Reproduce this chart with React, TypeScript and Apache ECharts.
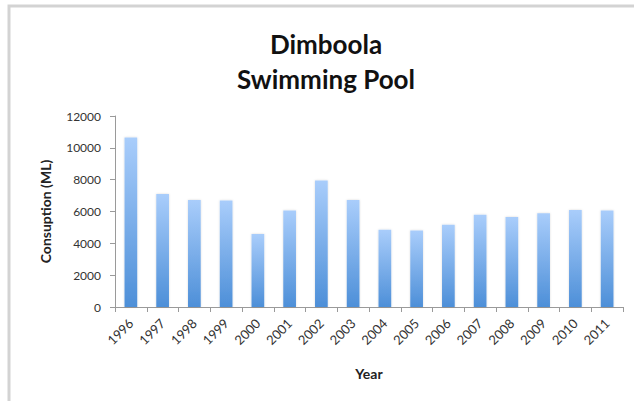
import React, { useEffect, useRef } from "react";
import * as echarts from "echarts";

// Annual water consumption for the Dimboola swimming pool
const years = [
  "1996", "1997", "1998", "1999", "2000", "2001", "2002", "2003",
  "2004", "2005", "2006", "2007", "2008", "2009", "2010", "2011",
];
const consumption = [
  10650, 7100, 6720, 6690, 4580, 6070, 7950, 6720,
  4850, 4800, 5170, 5800, 5650, 5890, 6090, 6070,
];
const titleLines = ["Dimboola", "Swimming Pool"];
const yAxisName = "Consuption (ML)";
const xAxisName = "Year";

const FONT = "Lato, 'Open Sans', sans-serif";

export default function App() {
  const ref = useRef<HTMLDivElement>(null);

  useEffect(() => {
    document.body.style.margin = "0";
    const chart = echarts.init(ref.current!, null, { renderer: "svg" });
    chart.setOption({
      animation: false,
      backgroundColor: "#ffffff",
      title: {
        text: titleLines.join("\n"),
        left: 326,
        top: 26,
        padding: 0,
        textAlign: "center",
        textStyle: {
          fontFamily: FONT,
          fontWeight: "bold",
          fontSize: 26,
          lineHeight: 35,
          color: "#111111",
        },
      },
      graphic: [
        {
          type: "polyline",
          shape: { points: [[9, 401], [9, 6], [634, 6]] },
          style: { stroke: "#d3d3d3", lineWidth: 3, fill: "none" },
          silent: true,
        },
      ],
      grid: { left: 115, right: 11, top: 116, bottom: 94 },
      xAxis: {
        type: "category",
        data: years,
        name: xAxisName,
        nameLocation: "middle",
        nameGap: 59,
        nameTextStyle: { fontFamily: FONT, fontWeight: "bold", fontSize: 14, color: "#222" },
        axisLine: { lineStyle: { color: "#9a9a9a", width: 1 } },
        axisTick: { show: true, length: 5, lineStyle: { color: "#9a9a9a" } },
        axisLabel: {
          rotate: 45,
          margin: 14,
          fontFamily: FONT,
          fontSize: 13,
          color: "#333",
        },
      },
      yAxis: {
        type: "value",
        min: 0,
        max: 12000,
        interval: 2000,
        name: yAxisName,
        nameLocation: "middle",
        nameGap: 63,
        nameTextStyle: { fontFamily: FONT, fontWeight: "bold", fontSize: 14, color: "#222" },
        axisLine: { show: true, lineStyle: { color: "#9a9a9a", width: 1 } },
        axisTick: { show: true, length: 5, lineStyle: { color: "#9a9a9a" } },
        splitLine: { show: false },
        axisLabel: {
          margin: 14,
          fontFamily: FONT,
          fontSize: 12,
          color: "#333",
          formatter: (v: number) => String(v),
        },
      },
      series: [
        {
          type: "bar",
          data: consumption,
          barWidth: "40%",
          itemStyle: {
            color: new echarts.graphic.LinearGradient(0, 0, 0, 1, [
              { offset: 0, color: "#a9cdfb" },
              { offset: 1, color: "#4d8fd8" },
            ]),
            shadowColor: "rgba(0,0,0,0.15)",
            shadowBlur: 2,
          },
        },
      ],
    });
    return () => chart.dispose();
  }, []);

  return <div ref={ref} style={{ width: 634, height: 401 }} />;
}
